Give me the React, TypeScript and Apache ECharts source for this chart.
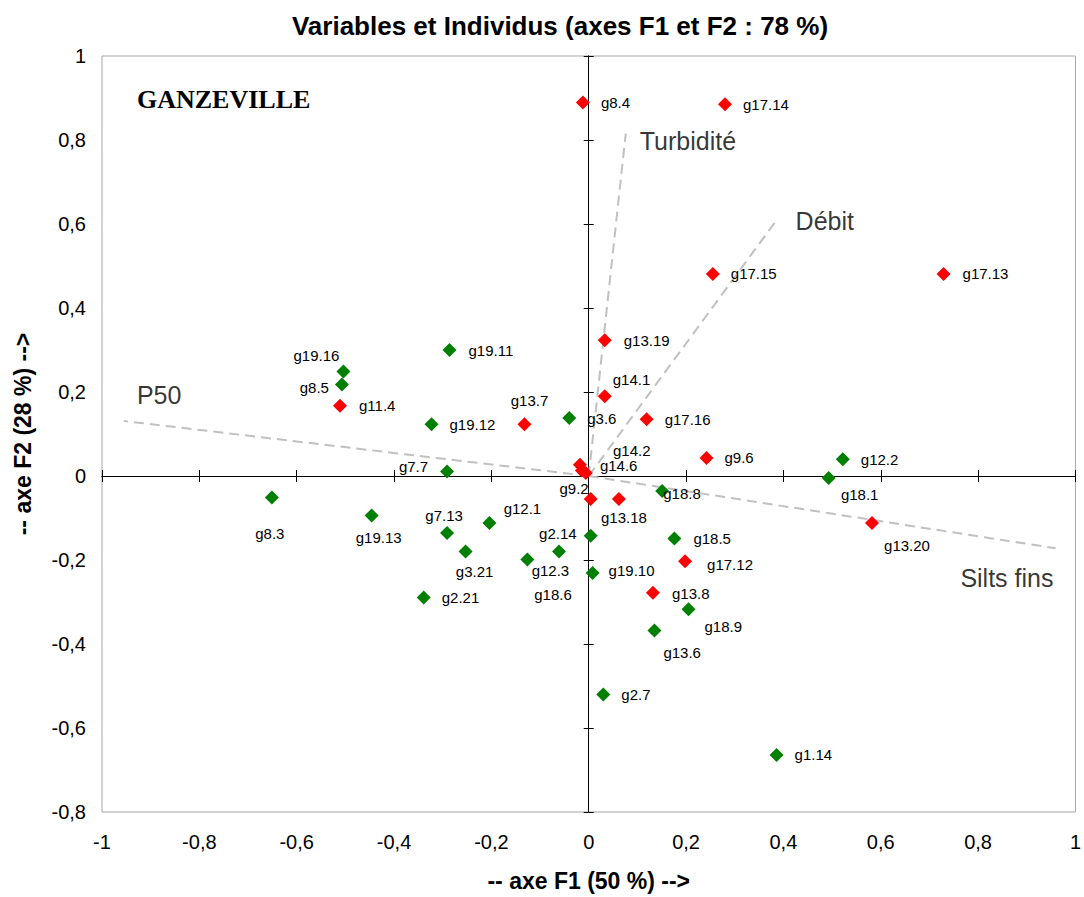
import React, { useEffect, useRef } from "react";
import * as echarts from "echarts";

// ---- Data ----
const redNames = ["g8.4", "g17.14", "g17.15", "g17.13", "g13.19", "g14.1", "g17.16", "g13.7", "g11.4", "g9.6", "g14.2", "g14.6", "", "g9.2", "g13.18", "g13.20", "g17.12", "g13.8"];
const redX = [-0.012, 0.280, 0.255, 0.729, 0.033, 0.033, 0.119, -0.132, -0.511, 0.242, -0.018, -0.014, -0.006, 0.004, 0.062, 0.582, 0.198, 0.132];
const redY = [0.889, 0.885, 0.481, 0.481, 0.323, 0.190, 0.135, 0.123, 0.167, 0.043, 0.027, 0.013, 0.007, -0.055, -0.055, -0.112, -0.203, -0.278];

const greenNames = ["g19.16", "g8.5", "g19.11", "g19.12", "g3.6", "g7.7", "g12.2", "g18.1", "g18.8", "g8.3", "g19.13", "g7.13", "g12.1", "g3.21", "g12.3", "g18.6", "g2.14", "g18.5", "g19.10", "g2.21", "g18.9", "g13.6", "g2.7", "g1.14"];
const greenX = [-0.504, -0.507, -0.286, -0.323, -0.040, -0.291, 0.522, 0.493, 0.151, -0.651, -0.446, -0.291, -0.204, -0.253, -0.126, -0.061, 0.004, 0.176, 0.008, -0.339, 0.205, 0.135, 0.030, 0.386];
const greenY = [0.249, 0.218, 0.300, 0.123, 0.138, 0.011, 0.040, -0.005, -0.036, -0.051, -0.094, -0.136, -0.112, -0.180, -0.199, -0.180, -0.142, -0.149, -0.231, -0.289, -0.317, -0.368, -0.520, -0.664];

const varNames = ["Turbidité", "Débit", "P50", "Silts fins"];
const varX = [0.076, 0.384, -0.955, 0.959];
const varY = [0.815, 0.606, 0.131, -0.172];

const axisTicks = { min: -1, max: 1, interval: 0.2 };
const yTicks = { min: -0.8, max: 1, interval: 0.2 };

// ---- Layout of labels (align, dx, dy in px) ----
const labelPlacement: Record<string, [string, number, number]> = {
  "g8.4": ["left", 18, 0],
  "g17.14": ["left", 18, 0],
  "g17.15": ["left", 18, 0],
  "g17.13": ["left", 19, 0],
  "g13.19": ["left", 19, 0],
  "g14.1": ["left", 8, -17],
  "g17.16": ["left", 18, 0],
  "g13.7": ["center", 5, -24],
  "g11.4": ["left", 19, 0],
  "g9.6": ["left", 18, 0],
  "g14.2": ["left", 33, -14],
  "g14.6": ["left", 18, -5],
  "g9.2": ["right", -2, -11],
  "g13.18": ["center", 5, 18],
  "g13.20": ["center", 35, 22],
  "g17.12": ["left", 22, 3],
  "g13.8": ["left", 19, 1],
  "g19.16": ["center", -27, -16],
  "g8.5": ["right", -13, 3],
  "g19.11": ["left", 19, 0],
  "g19.12": ["left", 18, 0],
  "g3.6": ["left", 18, 0],
  "g7.7": ["right", -19, -5],
  "g12.2": ["left", 18, 0],
  "g18.1": ["center", 31, 16],
  "g18.8": ["left", 1, 2],
  "g8.3": ["center", -2, 36],
  "g19.13": ["center", 7, 22],
  "g7.13": ["center", -3, -18],
  "g12.1": ["center", 33, -15],
  "g3.21": ["center", 9, 20],
  "g12.3": ["center", 23, 11],
  "g18.6": ["center", -6, 43],
  "g2.14": ["right", -14, -2],
  "g18.5": ["left", 19, 0],
  "g19.10": ["left", 16, -3],
  "g2.21": ["left", 18, 0],
  "g18.9": ["left", 16, 17],
  "g13.6": ["left", 9, 22],
  "g2.7": ["left", 18, 0],
  "g1.14": ["left", 18, 0],
  "Turbidité": ["left", 14, 7],
  "Débit": ["left", 20, 0],
  "P50": ["left", 13, -26],
  "Silts fins": ["right", -2, 30],
};

const FONT = "'Liberation Sans', Arial, sans-serif";

function fmt(v: number) {
  const r = Math.round(v * 10) / 10;
  return String(r).replace(".", ",");
}

function pointItem(name: string, x: number, y: number, fontSize: number) {
  const p = labelPlacement[name] || ["left", 18, 0];
  return {
    name,
    value: [x, y],
    label: {
      show: name !== "",
      formatter: name,
      position: "inside",
      align: p[0],
      verticalAlign: "middle",
      offset: [p[1], p[2]],
      color: "#000",
      fontFamily: FONT,
      fontSize,
    },
  };
}

export default function App() {
  const ref = useRef<HTMLDivElement>(null);
  useEffect(() => {
    if (!ref.current) return;
    const chart = echarts.init(ref.current, undefined, { renderer: "svg" });

    const zeroX = (inside: boolean) => ({
      type: "value",
      ...axisTicks,
      position: "bottom",
      axisLine: { show: true, onZero: true, onZeroAxisIndex: 0, lineStyle: { color: "#000", width: 1 } },
      axisTick: { show: true, inside, length: 6, lineStyle: { color: "#000", width: 1 } },
      axisLabel: { show: false },
      splitLine: { show: false },
    });
    const zeroY = (inside: boolean) => ({
      type: "value",
      ...yTicks,
      position: "left",
      axisLine: { show: true, onZero: true, onZeroAxisIndex: 0, lineStyle: { color: "#000", width: 1 } },
      axisTick: { show: true, inside, length: 5, lineStyle: { color: "#000", width: 1 } },
      axisLabel: { show: false },
      splitLine: { show: false },
    });

    const varSeries = varNames.map((n, i) => ({
      type: "line",
      name: n,
      xAxisIndex: 0,
      yAxisIndex: 0,
      data: [[0, 0], [varX[i], varY[i]]],
      symbol: "none",
      lineStyle: { color: "#c0c0c0", width: 2, type: [10, 6] },
      z: 1,
      silent: true,
    }));

    const option: any = {
      animation: false,
      title: {
        text: "Variables et Individus (axes F1 et F2 : 78 %)",
        left: 555,
        top: 8,
        textAlign: "center",
        textStyle: { fontFamily: FONT, fontSize: 26, fontWeight: "bold", color: "#000" },
      },
      grid: {
        left: 102,
        top: 56,
        right: 6,
        bottom: 83,
        show: true,
        borderColor: "#a6a6a6",
        borderWidth: 1,
        backgroundColor: "#fff",
      },
      xAxis: [
        {
          type: "value",
          ...axisTicks,
          position: "bottom",
          axisLine: { show: false, onZero: false },
          axisTick: { show: false },
          splitLine: { show: false },
          axisLabel: { formatter: fmt, fontFamily: FONT, fontSize: 20, color: "#000", margin: 20 },
          name: "-- axe F1 (50 %) -->",
          nameLocation: "middle",
          nameGap: 57,
          nameTextStyle: { fontFamily: FONT, fontSize: 23, fontWeight: "bold", color: "#000" },
        },
        zeroX(true),
        zeroX(false),
      ],
      yAxis: [
        {
          type: "value",
          ...yTicks,
          position: "left",
          axisLine: { show: false, onZero: false },
          axisTick: { show: false },
          splitLine: { show: false },
          axisLabel: { formatter: fmt, fontFamily: FONT, fontSize: 20, color: "#000", margin: 16 },
          name: "-- axe F2 (28 %) -->",
          nameLocation: "middle",
          nameGap: 68,
          nameRotate: 90,
          nameTextStyle: { fontFamily: FONT, fontSize: 23, fontWeight: "bold", color: "#000" },
        },
        zeroY(true),
        zeroY(false),
      ],
      graphic: [
        {
          type: "text",
          left: 137,
          top: 86,
          style: {
            text: "GANZEVILLE",
            fontFamily: "'Liberation Serif', 'Times New Roman', serif",
            fontSize: 26,
            fontWeight: "bold",
            fill: "#000",
          },
          z: 10,
        },
      ],
      series: [
        ...varSeries,
        {
          type: "scatter",
          name: "varLabels",
          xAxisIndex: 0,
          yAxisIndex: 0,
          symbolSize: 1,
          itemStyle: { color: "rgba(0,0,0,0)" },
          silent: true,
          data: varNames.map((n, i) => pointItem(n, varX[i], varY[i], 25)),
          z: 3,
        },
        {
          type: "scatter",
          name: "green",
          xAxisIndex: 0,
          yAxisIndex: 0,
          symbol: "diamond",
          symbolSize: 14,
          itemStyle: { color: "#008000", opacity: 1 },
          data: greenNames.map((n, i) => pointItem(n, greenX[i], greenY[i], 15)),
          z: 4,
        },
        {
          type: "scatter",
          name: "red",
          xAxisIndex: 0,
          yAxisIndex: 0,
          symbol: "diamond",
          symbolSize: 14,
          itemStyle: { color: "#ff0000", opacity: 1 },
          data: redNames.map((n, i) => pointItem(n, redX[i], redY[i], 15)),
          z: 5,
        },
      ],
    };
    chart.setOption(option);
    return () => chart.dispose();
  }, []);

  return (
    <div
      ref={ref}
      style={{ position: "fixed", left: 0, top: 0, width: 1084, height: 897, background: "#fff" }}
    />
  );
}
